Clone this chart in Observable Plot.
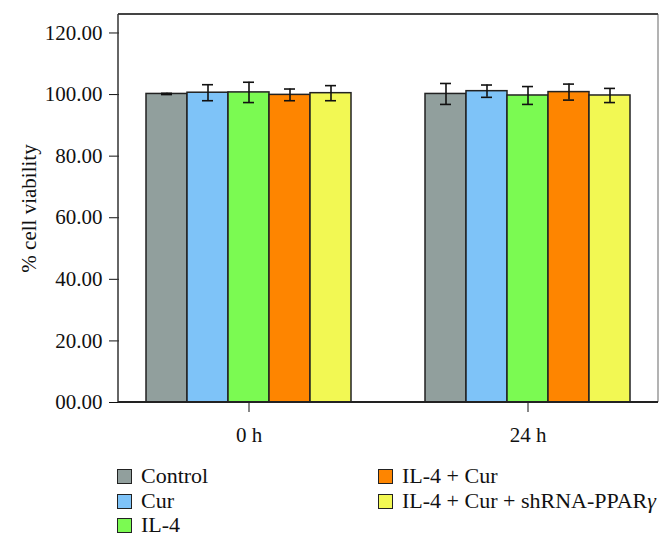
<!DOCTYPE html>
<html><head><meta charset="utf-8">
<script src="https://cdn.jsdelivr.net/npm/d3@7"></script>
<script src="https://cdn.jsdelivr.net/npm/@observablehq/plot@0.6"></script>
<style>
body{margin:0;background:#fff;font-family:"Liberation Serif",serif;}
#legend{position:relative;height:98px;width:672px;font-size:22px;color:#111}
.item{position:absolute;display:flex;align-items:center;white-space:nowrap;transform:translateY(-50%)}
.sw{width:13px;height:13px;border:1.5px solid #222;margin-right:9px}
</style></head><body><div id="chart"></div><div id="legend"></div>
<script>
const groups = ["0 h", "24 h"];
const series = ["Control", "Cur", "IL-4", "IL-4 + Cur", "IL-4 + Cur + shRNA-PPARγ"];
const colors = ["#919f9d", "#7ec3f8", "#7bfa52", "#fe8500", "#f2f853"];
const values0h = [100.2, 100.6, 100.7, 99.9, 100.45];
const errors0h = [0.2, 2.6, 3.3, 1.9, 2.45];
const values24h = [100.2, 101.1, 99.7, 100.8, 99.7];
const errors24h = [3.4, 2.0, 2.9, 2.6, 2.3];
const yTicks = [0, 20, 40, 60, 80, 100, 120];

const data = [];
groups.forEach((g, gi) => series.forEach((s, si) => {
  const v = gi ? values24h[si] : values0h[si];
  const e = gi ? errors24h[si] : errors0h[si];
  data.push({group: g, series: s, value: v, lo: v - e, hi: v + e});
}));

const W = 672, H = 450, mL = 118, mR = 14, mT = 14, mB = 48;
const chart = Plot.plot({
  width: W, height: H, marginLeft: mL, marginRight: mR, marginTop: mT, marginBottom: mB,
  style: {fontFamily: "Liberation Serif", fontSize: "21px", color: "#111", background: "#fff", overflow: "visible"},
  fx: {domain: groups, paddingInner: 0.0714, paddingOuter: 0, label: null, axis: "bottom", tickSize: 10, tickPadding: 15},
  x: {domain: series, paddingInner: 0, paddingOuter: 0.655, axis: null},
  y: {domain: [0, 126], ticks: yTicks, tickFormat: d3.format("05.2f"), tickSize: 10, tickPadding: 7,
      label: "% cell viability", labelArrow: false, labelAnchor: "center", labelOffset: 98},
  color: {domain: series, range: colors},
  marks: [
    Plot.barY(data, {fx: "group", x: "series", y: "value", fill: "series", stroke: "#222", strokeWidth: 1.5}),
    Plot.ruleX(data, {fx: "group", x: "series", y1: "lo", y2: "hi", stroke: "#111", strokeWidth: 1.6}),
    Plot.tickY(data, {fx: "group", x: "series", y: "lo", insetLeft: 15, insetRight: 15, stroke: "#111", strokeWidth: 1.6}),
    Plot.tickY(data, {fx: "group", x: "series", y: "hi", insetLeft: 15, insetRight: 15, stroke: "#111", strokeWidth: 1.6})
  ]
});
document.getElementById("chart").appendChild(chart);

// plot frame from the scales' ranges
const yr = chart.scale("y").range;
const y0 = Math.max(...yr), y1 = Math.min(...yr);
const x0 = mL, x1 = W - mR;
const svg = d3.select(chart);
const fr = svg.append("g").attr("fill", "none");
fr.append("line").attr("x1", x1).attr("x2", x1).attr("y1", y1).attr("y2", y0).attr("stroke", "#9a9a9a").attr("stroke-width", 1.5);
fr.append("line").attr("x1", x0).attr("x2", x1).attr("y1", y1).attr("y2", y1).attr("stroke", "#444").attr("stroke-width", 1.8);
fr.append("line").attr("x1", x0).attr("x2", x0).attr("y1", y1).attr("y2", y0).attr("stroke", "#333").attr("stroke-width", 1.5);
fr.append("line").attr("x1", x0).attr("x2", x1).attr("y1", y0).attr("y2", y0).attr("stroke", "#222").attr("stroke-width", 1.8);

// legend
const leg = document.getElementById("legend");
const colX = [117, 378], rowY = [26, 51, 75];
series.forEach((s, i) => {
  const col = i < 3 ? 0 : 1, row = i < 3 ? i : i - 3;
  const it = document.createElement("div");
  it.className = "item";
  it.style.left = colX[col] + "px";
  it.style.top = rowY[row] + "px";
  const sw = document.createElement("span");
  sw.className = "sw"; sw.style.background = colors[i];
  const tx = document.createElement("span");
  s.split(/(γ)/).forEach(part => {
    if (part === "γ") { const em = document.createElement("i"); em.textContent = part; tx.appendChild(em); }
    else if (part) tx.appendChild(document.createTextNode(part));
  });
  it.appendChild(sw); it.appendChild(tx);
  leg.appendChild(it);
});
</script></body></html>
